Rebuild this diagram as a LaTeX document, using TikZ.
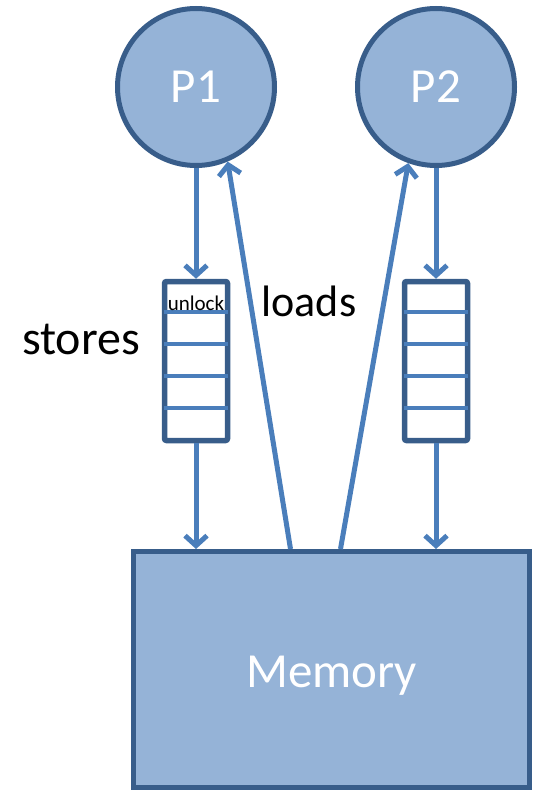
\documentclass[tikz,border=0pt]{standalone}
\usepackage{fontspec}
\setmainfont{Carlito}
\usetikzlibrary{calc, arrows.meta}
\definecolor{boxfill}{HTML}{95B3D7}
\definecolor{boxline}{HTML}{385D8A}
\definecolor{wire}{HTML}{4A7EBB}
\tikzstyle{procnode} = [draw=boxline,circle,line width=5pt,fill=boxfill,text=white,font=\fontsize{49}{52}\selectfont,minimum size=157pt,inner sep=0pt]
\tikzstyle{buffer} = [draw=boxline,line width=5.5pt,fill=white,rounded corners=2pt,minimum width=63pt,minimum height=159pt,inner sep=0pt]
\tikzstyle{memnode} = [draw=boxline,line width=5pt,fill=boxfill,minimum width=396pt,minimum height=236pt,inner sep=0pt]
\tikzstyle{memtext} = [text=white,font=\fontsize{49}{52}\selectfont,inner sep=0pt]
\tikzstyle{wirearrow} = [draw=wire,line width=5pt,-{Straight Barb[length=10pt,width=22pt,line width=5pt]}]
\tikzstyle{label} = [font=\fontsize{48}{52}\selectfont,inner sep=0pt]

\begin{document}
\begin{tikzpicture}[x=1pt,y=-1pt]
		\useasboundingbox (0,0) rectangle (539,794);

		\node[procnode] (p1) at (196,87) {P1};
		\node[procnode] (p2) at (436,87) {P2};
		\node[buffer] (buf1) at (196,361) {};
		\node[buffer] (buf2) at (436,361) {};
		\node[memnode] (mem) at (331.5,669.5) {};
		\node[memtext] (memlbl) at ($(mem.center)+(0,6)$) {Memory};

		% slots in the store buffers
		\foreach \b in {buf1,buf2}
			\foreach \d in {33,65,97,129}
				\draw[wire,line width=4.5pt,shorten <=2.5pt,shorten >=2.5pt] ($(\b.north west)+(0,\d)$) -- ($(\b.north east)+(0,\d)$);

		\node[font=\fontsize{21}{23}\selectfont,inner sep=0pt] (ul) at (196,303) {unlock};
		\node[label] (st) at (81,339) {stores};
		\node[label,font=\fontsize{44}{48}\selectfont] (ld) at (309,301) {loads};

		\draw[wirearrow] (p1.south) -- (buf1.north);
		\draw[wirearrow] (buf1.south) -- (buf1.south |- mem.north);
		\draw[wirearrow] (p2.south) -- (buf2.north);
		\draw[wirearrow] (buf2.south) -- (buf2.south |- mem.north);
		\draw[wirearrow] ($(mem.north)+(-41,0)$) -- (p1.-67);
		\draw[wirearrow] ($(mem.north)+(9,0)$) -- (p2.-110);
	\end{tikzpicture}
\end{document}
